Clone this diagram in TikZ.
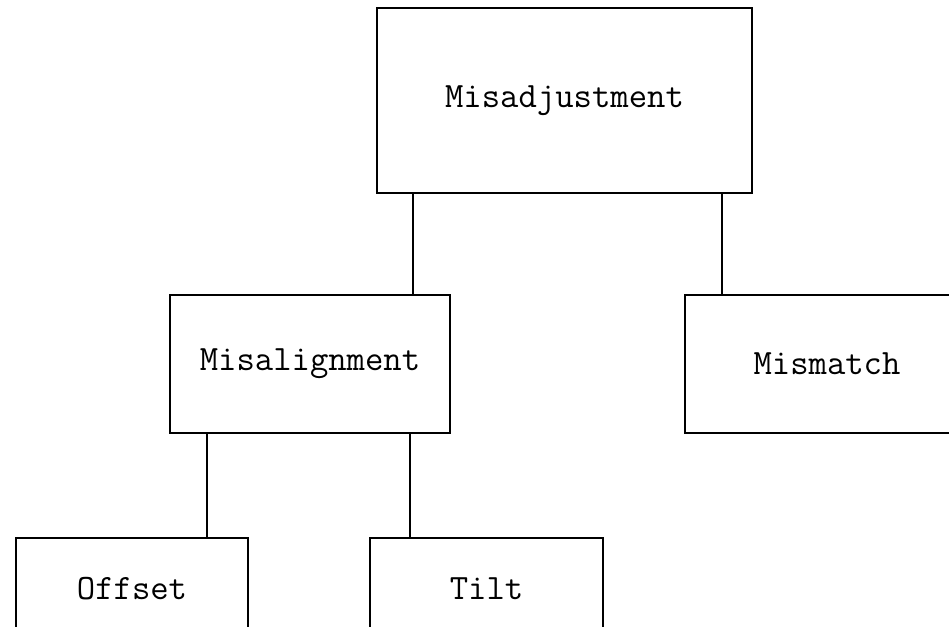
\documentclass[tikz,border=0pt]{standalone}
\usepackage{tikz}

\begin{document}
\begin{tikzpicture}[x=0.02cm,y=0.02cm,
    box/.style={draw, rectangle, line width=1.2pt, inner sep=0pt,
      font=\ttfamily\fontsize{20.3}{24}\selectfont},
    link/.style={line width=1.2pt}]
      \clip (0,0) rectangle (949,626);
      % Level 1: top box
      \node[box, minimum width=7.5cm, minimum height=3.7cm] (misadj) at (564.5,525.5) {Misadjustment};
      % Level 2: two branches
      \node[box, minimum width=5.6cm, minimum height=2.76cm] (misalign) at (310,262) {Misalignment};
      \node[box, minimum width=5.68cm, minimum height=2.76cm] (mismatch) at (827,262) {Mismatch};
      % Level 3: under Misalignment
      \node[box, minimum width=4.64cm, minimum height=2.04cm] (offset) at (132,37) {Offset};
      \node[box, minimum width=4.66cm, minimum height=2.04cm] (tilt) at (486.5,37) {Tilt};
      % Connectors
      \coordinate (j1) at (413,0); \coordinate (j2) at (722,0);
      \coordinate (j3) at (207,0); \coordinate (j4) at (410,0);
      \draw[link] (misadj.south -| j1) -- (misalign.north -| j1);
      \draw[link] (misadj.south -| j2) -- (mismatch.north -| j2);
      \draw[link] (misalign.south -| j3) -- (offset.north -| j3);
      \draw[link] (misalign.south -| j4) -- (tilt.north -| j4);
    \end{tikzpicture}
\end{document}
